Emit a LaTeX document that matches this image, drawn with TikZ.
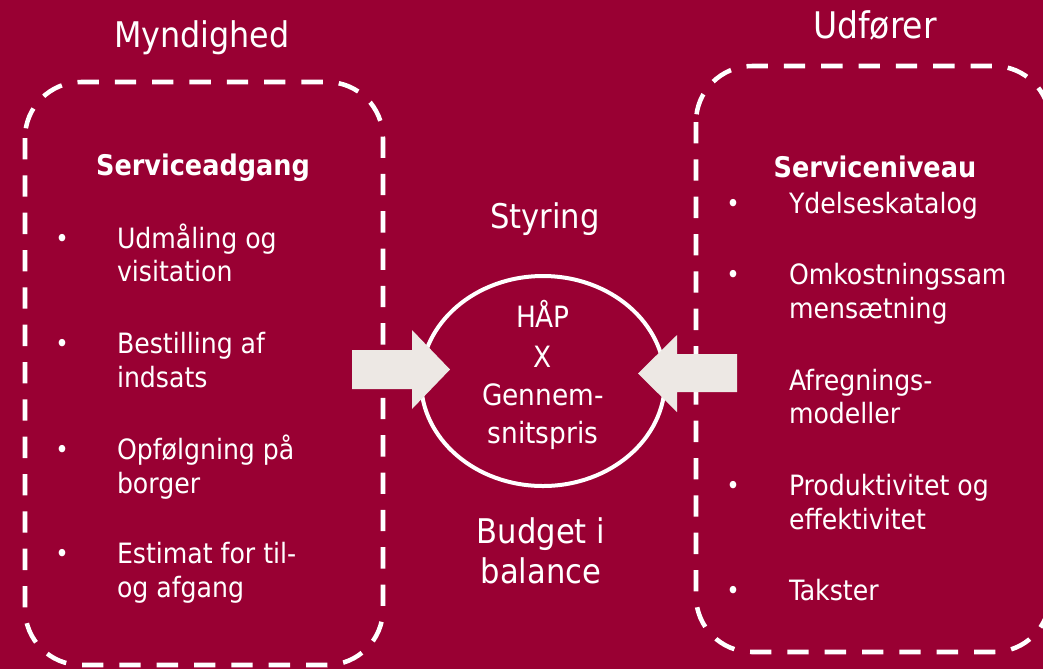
\documentclass[tikz,border=0pt]{standalone}
\usepackage{fontspec}
\setmainfont{DejaVu Sans Condensed}
\definecolor{bg}{HTML}{990033}
\definecolor{arrowgray}{HTML}{EDE8E4}
\begin{document}
\begin{tikzpicture}[x=0.75pt,y=-0.75pt,
  dashbox/.style={draw=white, line width=3.4pt, dash pattern=on 16pt off 12pt, rounded corners=42pt},
  txt/.style={text=white, inner sep=0pt, outer sep=0pt},
  body/.style={txt, font=\fontsize{21}{25}\selectfont, anchor=base west},
  bul/.style={txt, font=\fontsize{19}{23}\selectfont, anchor=base},
  head/.style={txt, font=\fontsize{21.3}{25}\selectfont\bfseries, anchor=base},
  title/.style={txt, font=\fontsize{26.5}{31}\selectfont, anchor=base},
  mid/.style={txt, font=\fontsize{25.5}{30}\selectfont, anchor=base},
  inner/.style={txt, font=\fontsize{22}{26}\selectfont, anchor=base},
  blockarrow/.style={fill=arrowgray, draw=none}]
\fill[bg] (0,0) rectangle (1043,669);
\useasboundingbox (0,0) rectangle (1043,669);
\clip (0,0) rectangle (1043,669);

% dashed boxes
\draw[dashbox] (25,82) rectangle (383,665);
\draw[dashbox] (696,66) rectangle (1050,652);

% titles
\node[title] (myn) at (202,47) {Myndighed};
\node[title, font=\fontsize{27.5}{32}\selectfont] (udf) at (875,38) {Udfører};

% left content
\node[head] (sa) at (203,175) {Serviceadgang};
\node[bul] (b1) at (62,247) {•};
\node[body] (l1a) at (117,248) {Udmåling og};
\node[body] (l1b) at (117,281) {visitation};
\node[bul] (b2) at (62,352) {•};
\node[body] (l2a) at (117,353) {Bestilling af};
\node[body] (l2b) at (117,387) {indsats};
\node[bul] (b3) at (62,458) {•};
\node[body] (l3a) at (117,459) {Opfølgning på};
\node[body] (l3b) at (117,493) {borger};
\node[bul] (b4) at (62,562) {•};
\node[body] (l4a) at (117,563) {Estimat for til-};
\node[body] (l4b) at (117,597) {og afgang};

% right content
\node[head] (sn) at (875,177) {Serviceniveau};
\node[bul] (r1) at (733,212) {•};
\node[body] (r1a) at (789,213) {Ydelseskatalog};
\node[bul] (r2) at (733,283) {•};
\node[body] (r2a) at (789,284) {Omkostningssam};
\node[body] (r2b) at (789,318) {mensætning};
\node[bul] (r3) at (733,389) {•};
\node[body] (r3a) at (789,390) {Afregnings-};
\node[body] (r3b) at (789,423) {modeller};
\node[bul] (r4) at (733,494) {•};
\node[body] (r4a) at (789,495) {Produktivitet og};
\node[body] (r4b) at (789,529) {effektivitet};
\node[bul] (r5) at (733,599) {•};
\node[body] (r5a) at (789,600) {Takster};

% middle
\node[mid] (sty) at (545,228) {Styring};
\draw[white, line width=3pt] (543,381) ellipse [x radius=122, y radius=105];
\node[inner] (hap) at (543,327) {HÅP};
\node[inner] (x) at (543,367) {X};
\node[inner] (gen) at (543,405) {Gennem-};
\node[inner] (snit) at (543,443) {snitspris};
\node[mid] (bud1) at (541,543) {Budget i};
\node[mid] (bud2) at (541,583) {balance};

% block arrows
\fill[blockarrow] (352,350) -- (412,350) -- (412,330) -- (450,369.5) -- (412,409) -- (412,389) -- (352,389) -- cycle;
\fill[blockarrow] (737,354) -- (677,354) -- (677,335) -- (638,373.5) -- (677,412) -- (677,392) -- (737,392) -- cycle;
\end{tikzpicture}
\end{document}
